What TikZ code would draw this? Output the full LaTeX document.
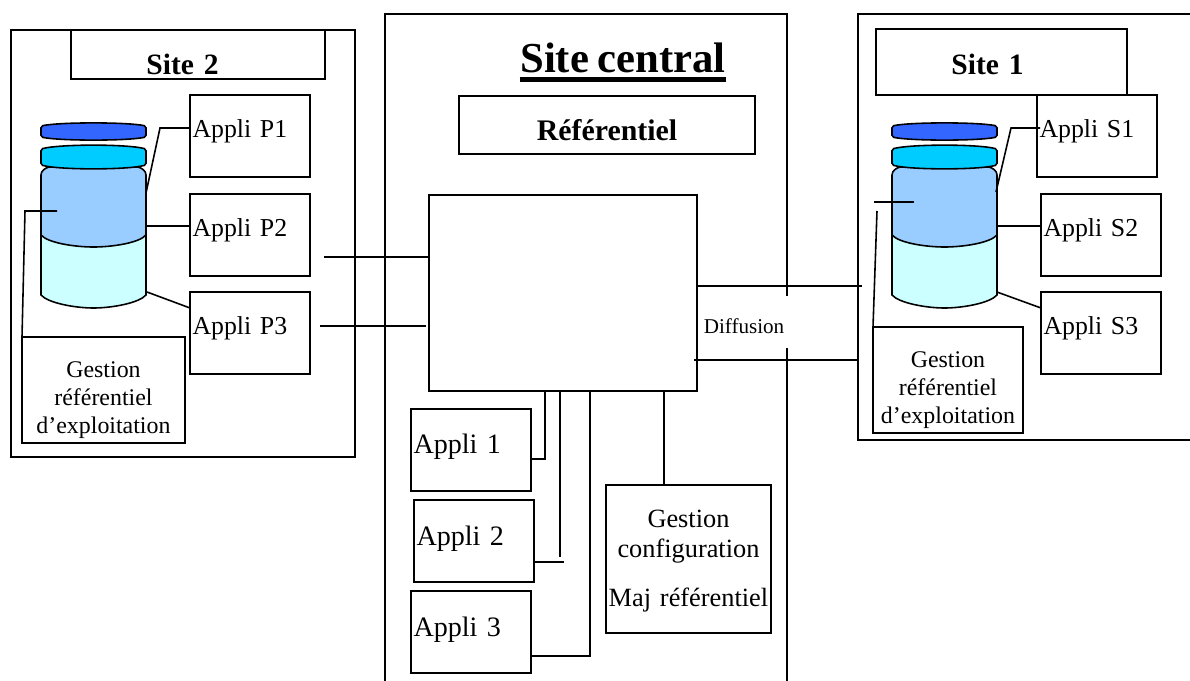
\documentclass[tikz,border=0pt]{standalone}
\usepackage{fontspec}
\setmainfont[WordSpace=0.8]{Liberation Serif}
\usetikzlibrary{positioning}

% one jar, drawn at its left-hand place and pushed sideways by #1
\newcommand{\jar}[1]{
  \begin{scope}[xshift=#1*0.02cm]
    \draw[fill=jarpale] (41,235) -- (41,295) .. controls (48,303) and (75,308) .. (93.5,308) .. controls (112,308) and (139,303) .. (146,295) -- (146,235) -- cycle;
    \draw[fill=jarlight] (41,175) .. controls (41,171) and (45,168) .. (49,167) -- (138,167) .. controls (142,168) and (146,171) .. (146,175) -- (146,235) .. controls (139,243) and (112,247) .. (93.5,247) .. controls (75,247) and (48,243) .. (41,235) -- cycle;
    \draw[fill=jarcyan,rounded corners=1pt] (41,149) .. controls (60,144) and (127,144) .. (146,149) -- (146,165) .. controls (127,170) and (60,170) .. (41,165) -- cycle;
    \draw[fill=jarblue,rounded corners=1pt] (41,126) .. controls (60,122) and (127,122) .. (146,126) -- (146,137) .. controls (127,141) and (60,141) .. (41,137) -- cycle;
  \end{scope}
}

\definecolor{jarblue}{HTML}{3366FF}
\definecolor{jarcyan}{HTML}{00CCFF}
\definecolor{jarlight}{HTML}{99CCFF}
\definecolor{jarpale}{HTML}{CCFFFF}

\begin{document}
\begin{tikzpicture}[x=0.02cm,y=-0.02cm,line width=0.9pt,
    main box/.style={draw,fill=white,rectangle,outer sep=0pt,inner ysep=0pt,inner xsep=0.05cm,anchor=north west},
    appli box/.style={main box,align=left,font=\fontsize{14.7}{17}\selectfont,text width=2.3cm,text height=0.86cm,text depth=0.78cm},
    low box/.style={appli box,font=\fontsize{16}{17}\selectfont,text height=0.9cm,text depth=0.74cm},
    site box/.style={main box,align=center,inner xsep=0pt,font=\fontsize{16.8}{20}\bfseries\selectfont},
    note box/.style={main box,align=center,inner xsep=0pt,font=\fontsize{13.6}{16}\selectfont,text height=0.8cm,text depth=1.32cm}]

	\useasboundingbox (0,0) rectangle (1190,680);

	% the three sites
	\node[main box,minimum width=6.88cm,minimum height=8.54cm] at (11,30) (site2) {};
	\draw (385,682) -- (385,14) -- (787,14) -- (787,682);
	\draw (1192,14) -- (858,14) -- (858,440) -- (1192,440);

	\node[site box,text width=5.08cm,text height=0.9cm,text depth=0.08cm] at (71,30) (title2) {\hspace*{-0.62cm}Site 2};
	\node[site box,text width=5.02cm,text height=0.92cm,text depth=0.4cm] at (876,29) (title1) {\hspace*{-0.56cm}Site 1};
	\node[site box,text width=5.92cm,text height=0.9cm,text depth=0.26cm,font=\fontsize{17}{20}\bfseries\selectfont] at (459,96) (referentiel) {Référentiel};
	\node[font=\fontsize{24.3}{28}\bfseries\selectfont,inner sep=0pt,anchor=base] at (623,72) (central) {Site central};
	\draw[line width=2.8pt] ([yshift=-0.13cm]central.south west) -- ([yshift=-0.13cm]central.south east);

	\node[main box,minimum width=5.36cm,minimum height=3.92cm] at (429,195) (hub) {};
	\node[fill=white,inner sep=0pt,anchor=north west,align=left,text width=1.9cm,text height=0.76cm,text depth=0.28cm,font=\fontsize{12}{14}\selectfont] at (700,295) (diffusion) {\hspace*{0.06cm}Diffusion};

	% jars
	\jar{0}
	\jar{851}

	% applications of site 2
	\node[appli box] at (190,95) (p1) {Appli P1};
	\node[appli box] at (190,194) (p2) {Appli P2};
	\node[appli box] at (190,292) (p3) {Appli P3};
	\node[note box,text width=3.26cm] at (22,337) (gestion2) {Gestion\\référentiel\\d’exploitation};

	% applications of site 1
	\node[appli box] at (1037,95) (s1) {Appli S1};
	\node[appli box] at (1041,194) (s2) {Appli S2};
	\node[appli box] at (1041,292) (s3) {Appli S3};
	\node[note box,text width=3cm] at (873,327) (gestion1) {Gestion\\référentiel\\d’exploitation};

	% applications of the central site
	\node[low box] at (411,409) (a1) {Appli 1};
	\node[low box] at (414,500) (a2) {Appli 2};
	\node[low box] at (411,591) (a3) {Appli 3};
	\node[note box,text width=3.3cm,text height=0.84cm,text depth=2.12cm,font=\fontsize{15}{17.6}\selectfont] at (606,485) (config) {Gestion\\configuration\\[0.36cm]Maj référentiel};

	% free ends
	\coordinate (jar2a) at (146,193);
	\coordinate (jar2b) at (146,226);
	\coordinate (jar2c) at (147,292);
	\coordinate (jar2d) at (57,211);
	\coordinate (jar1a) at (996,192);
	\coordinate (jar1b) at (996,226);
	\coordinate (jar1c) at (997,292);
	\coordinate (jar1d) at (914,202);
	\coordinate (jar1e) at (874,202);
	\coordinate (jar1f) at (877,211);
	\coordinate (outp2) at (324,257);
	\coordinate (outp3) at (320,326);
	\coordinate (out1a) at (862,286);
	\coordinate (out1b) at (858,360);
	\coordinate (hubb) at (694,360);
	\coordinate (a2end) at (564,562);
	\coordinate (a2top) at (560,557);

	\draw ([yshift=0.16cm]p1.west) -- (160,128) -- (jar2a);
	\draw (jar2b) -- (p2.west |- jar2b);
	\draw (jar2c) -- ([yshift=-0.32cm]p3.north west);
	\draw (gestion2.north west) -- (25,211) -- (jar2d);

	\draw ([xshift=0.06cm,yshift=-0.66cm]s1.north west) -- (1011,128) -- (jar1a);
	\draw (jar1b) -- (s2.west |- jar1b);
	\draw (jar1c) -- ([yshift=-0.32cm]s3.north west);
	\draw (gestion1.north west) -- (jar1f);
	\draw (jar1e) -- (jar1d);

	\path[draw]
	(outp2) edge (hub.west |- outp2)
	(outp3) edge ([xshift=-0.06cm]hub.west |- outp3)
	(hub.east |- out1a) edge (out1a)
	(hubb) edge (out1b)
	;

	\draw (hub.south west -| 545,0) -- (545,459) -- (a1.east |- 0,459);
	\draw (hub.south west -| a2top) -- (a2top);
	\draw (a2.east |- a2end) -- (a2end);
	\draw (hub.south west -| 590,0) -- (590,656) -- (a3.east |- 0,656);
	\draw (664,390) -- (config.north -| 664,0);

\end{tikzpicture}
\end{document}
